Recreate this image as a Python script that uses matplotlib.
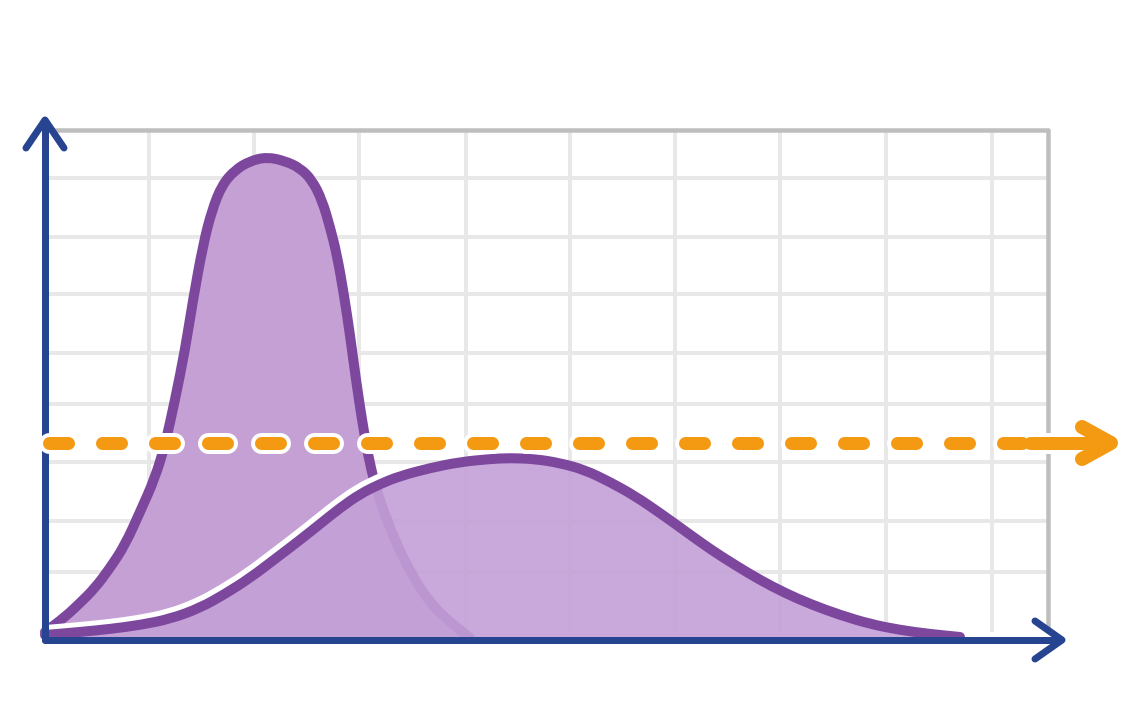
import matplotlib
matplotlib.use('Agg')
import matplotlib.pyplot as plt
import matplotlib.patheffects as pe
from matplotlib.path import Path
from matplotlib.patches import PathPatch

plt.rcParams['lines.scale_dashes'] = False

# ---------------- data (time units, case units) ----------------
# "Without measures" curve: tall, narrow peak
tall_x = [0, 20, 35, 50, 65, 80, 95, 110, 120, 130, 140, 148, 158, 167, 177, 190,
          205, 222, 240, 255, 267, 277, 285, 292, 299, 305, 311, 317, 323, 330,
          340, 352, 367, 385, 405, 425]
tall_y = [8, 23, 37, 52, 72, 95, 128, 162, 195, 240, 290, 340, 395, 430, 455, 470,
          479, 483, 479, 472, 460, 440, 413, 385, 345, 305, 260, 220, 185, 155,
          125, 95, 65, 37, 18, 2]

# "With measures" curve: flattened, delayed peak
flat_x = [0, 35, 65, 95, 125, 155, 180, 205, 230, 255, 275, 295, 315, 335, 355, 385,
          415, 445, 465, 490, 515, 540, 565, 590, 615, 640, 665, 690, 715, 740,
          765, 795, 825, 855, 885, 915]
flat_y = [5, 8, 11, 15, 21, 32, 46, 62, 81, 100, 116, 132, 146, 156, 164, 172,
          178, 181, 182, 181, 177, 170, 158, 144, 127, 109, 91, 75, 60, 47,
          36, 25, 16, 10, 6, 3]

# health-care system capacity
capacity = 197

# ---------------- styling / layout ----------------
PX = 0.72  # points per pixel at dpi=100
PURPLE = '#7D479E'
FILL_TALL = '#C4A0D5'
FILL_FLAT = '#C3A0D7'
BLUE = '#26448F'
ORANGE = '#F39A12'
GRID = '#E8E8E8'
BORDER = '#BEBEBE'

grid_x = [104, 209, 314, 421, 525, 630, 735, 841, 947]
grid_y = [462, 403, 346, 287, 236, 178, 119, 68]
box_top, box_right = 510, 1003


def smooth_path(xs, ys, close_to_base=False):
    """Quadratic-Bezier path through midpoints (rendering only)."""
    pts = list(zip(xs, ys))
    verts = [pts[0]]
    codes = [Path.MOVETO]
    mid = lambda a, b: ((a[0] + b[0]) / 2, (a[1] + b[1]) / 2)
    verts.append(mid(pts[0], pts[1]))
    codes.append(Path.LINETO)
    for i in range(1, len(pts) - 1):
        verts += [pts[i], mid(pts[i], pts[i + 1])]
        codes += [Path.CURVE3, Path.CURVE3]
    verts.append(pts[-1])
    codes.append(Path.LINETO)
    if close_to_base:
        verts += [(xs[-1], 0), (xs[0], 0), (xs[0], 0)]
        codes += [Path.LINETO, Path.LINETO, Path.CLOSEPOLY]
    return Path(verts, codes)


fig = plt.figure(figsize=(11.36, 7.09), dpi=100)
ax = fig.add_axes([0, 0, 1, 1])
ax.set_xlim(-45, 1091)
ax.set_ylim(-69, 640)
ax.axis('off')

# grid
ax.vlines(grid_x, 8, box_top, colors=GRID, lw=4 * PX, zorder=1)
ax.hlines(grid_y, 0, box_right, colors=GRID, lw=4 * PX, zorder=1)
# border
ax.plot([5, box_right, box_right], [box_top, box_top, 12], color=BORDER,
        lw=4.5 * PX, solid_capstyle='round', solid_joinstyle='round', zorder=2)

# tall curve
ax.add_patch(PathPatch(smooth_path(tall_x, tall_y, True), facecolor=FILL_TALL,
                       lw=0, zorder=3))
ax.add_patch(PathPatch(smooth_path(tall_x, tall_y), facecolor='none',
                       edgecolor=PURPLE, lw=10 * PX, capstyle='round',
                       joinstyle='round', zorder=4))

# white halo on rising part of flat curve
n_halo = sum(1 for v in flat_x if v <= 360)
halo = PathPatch(smooth_path(flat_x[:n_halo], flat_y[:n_halo]), facecolor='none',
                 edgecolor='white', lw=10 * PX, capstyle='butt', joinstyle='round',
                 zorder=5,
                 path_effects=[pe.Stroke(offset=(-1.8, 3.4), linewidth=10 * PX,
                                         foreground='white')])
ax.add_patch(halo)

# flat curve
ax.add_patch(PathPatch(smooth_path(flat_x, flat_y, True), facecolor=FILL_FLAT,
                       alpha=0.9, lw=0, zorder=6))
ax.add_patch(PathPatch(smooth_path(flat_x, flat_y), facecolor='none',
                       edgecolor=PURPLE, lw=10 * PX, capstyle='round',
                       joinstyle='round', zorder=7))

# blue axes with arrow heads
ax.plot([0, 0], [0, 518], color=BLUE, lw=7 * PX, solid_capstyle='round', zorder=8)
ax.plot([-19, 0, 19], [492, 520, 492], color=BLUE, lw=7 * PX,
        solid_capstyle='round', solid_joinstyle='round', zorder=8)
ax.plot([0, 1015], [0, 0], color=BLUE, lw=7 * PX, solid_capstyle='round', zorder=8)
ax.plot([990, 1017, 990], [19, 0, -19], color=BLUE, lw=7 * PX,
        solid_capstyle='round', solid_joinstyle='round', zorder=8)

# capacity line (orange, dashed, white outline)
dash = (19 * PX, 34 * PX)
for col, lw, z in [('white', 21, 9), (ORANGE, 13, 10)]:
    ax.plot([3.5, 985], [capacity, capacity], color=col, lw=lw * PX,
            dashes=dash, dash_capstyle='round', zorder=z)
for col, lw, z in [('white', 21, 9), (ORANGE, 13, 10)]:
    ax.plot([985, 1060], [capacity, capacity], color=col, lw=lw * PX,
            solid_capstyle='round', zorder=z)
    ax.plot([1037, 1066, 1037], [capacity + 16, capacity, capacity - 16],
            color=col, lw=(lw + 1) * PX, solid_capstyle='round',
            solid_joinstyle='round', zorder=z)

fig.savefig('out.png', dpi=100, facecolor='white')
